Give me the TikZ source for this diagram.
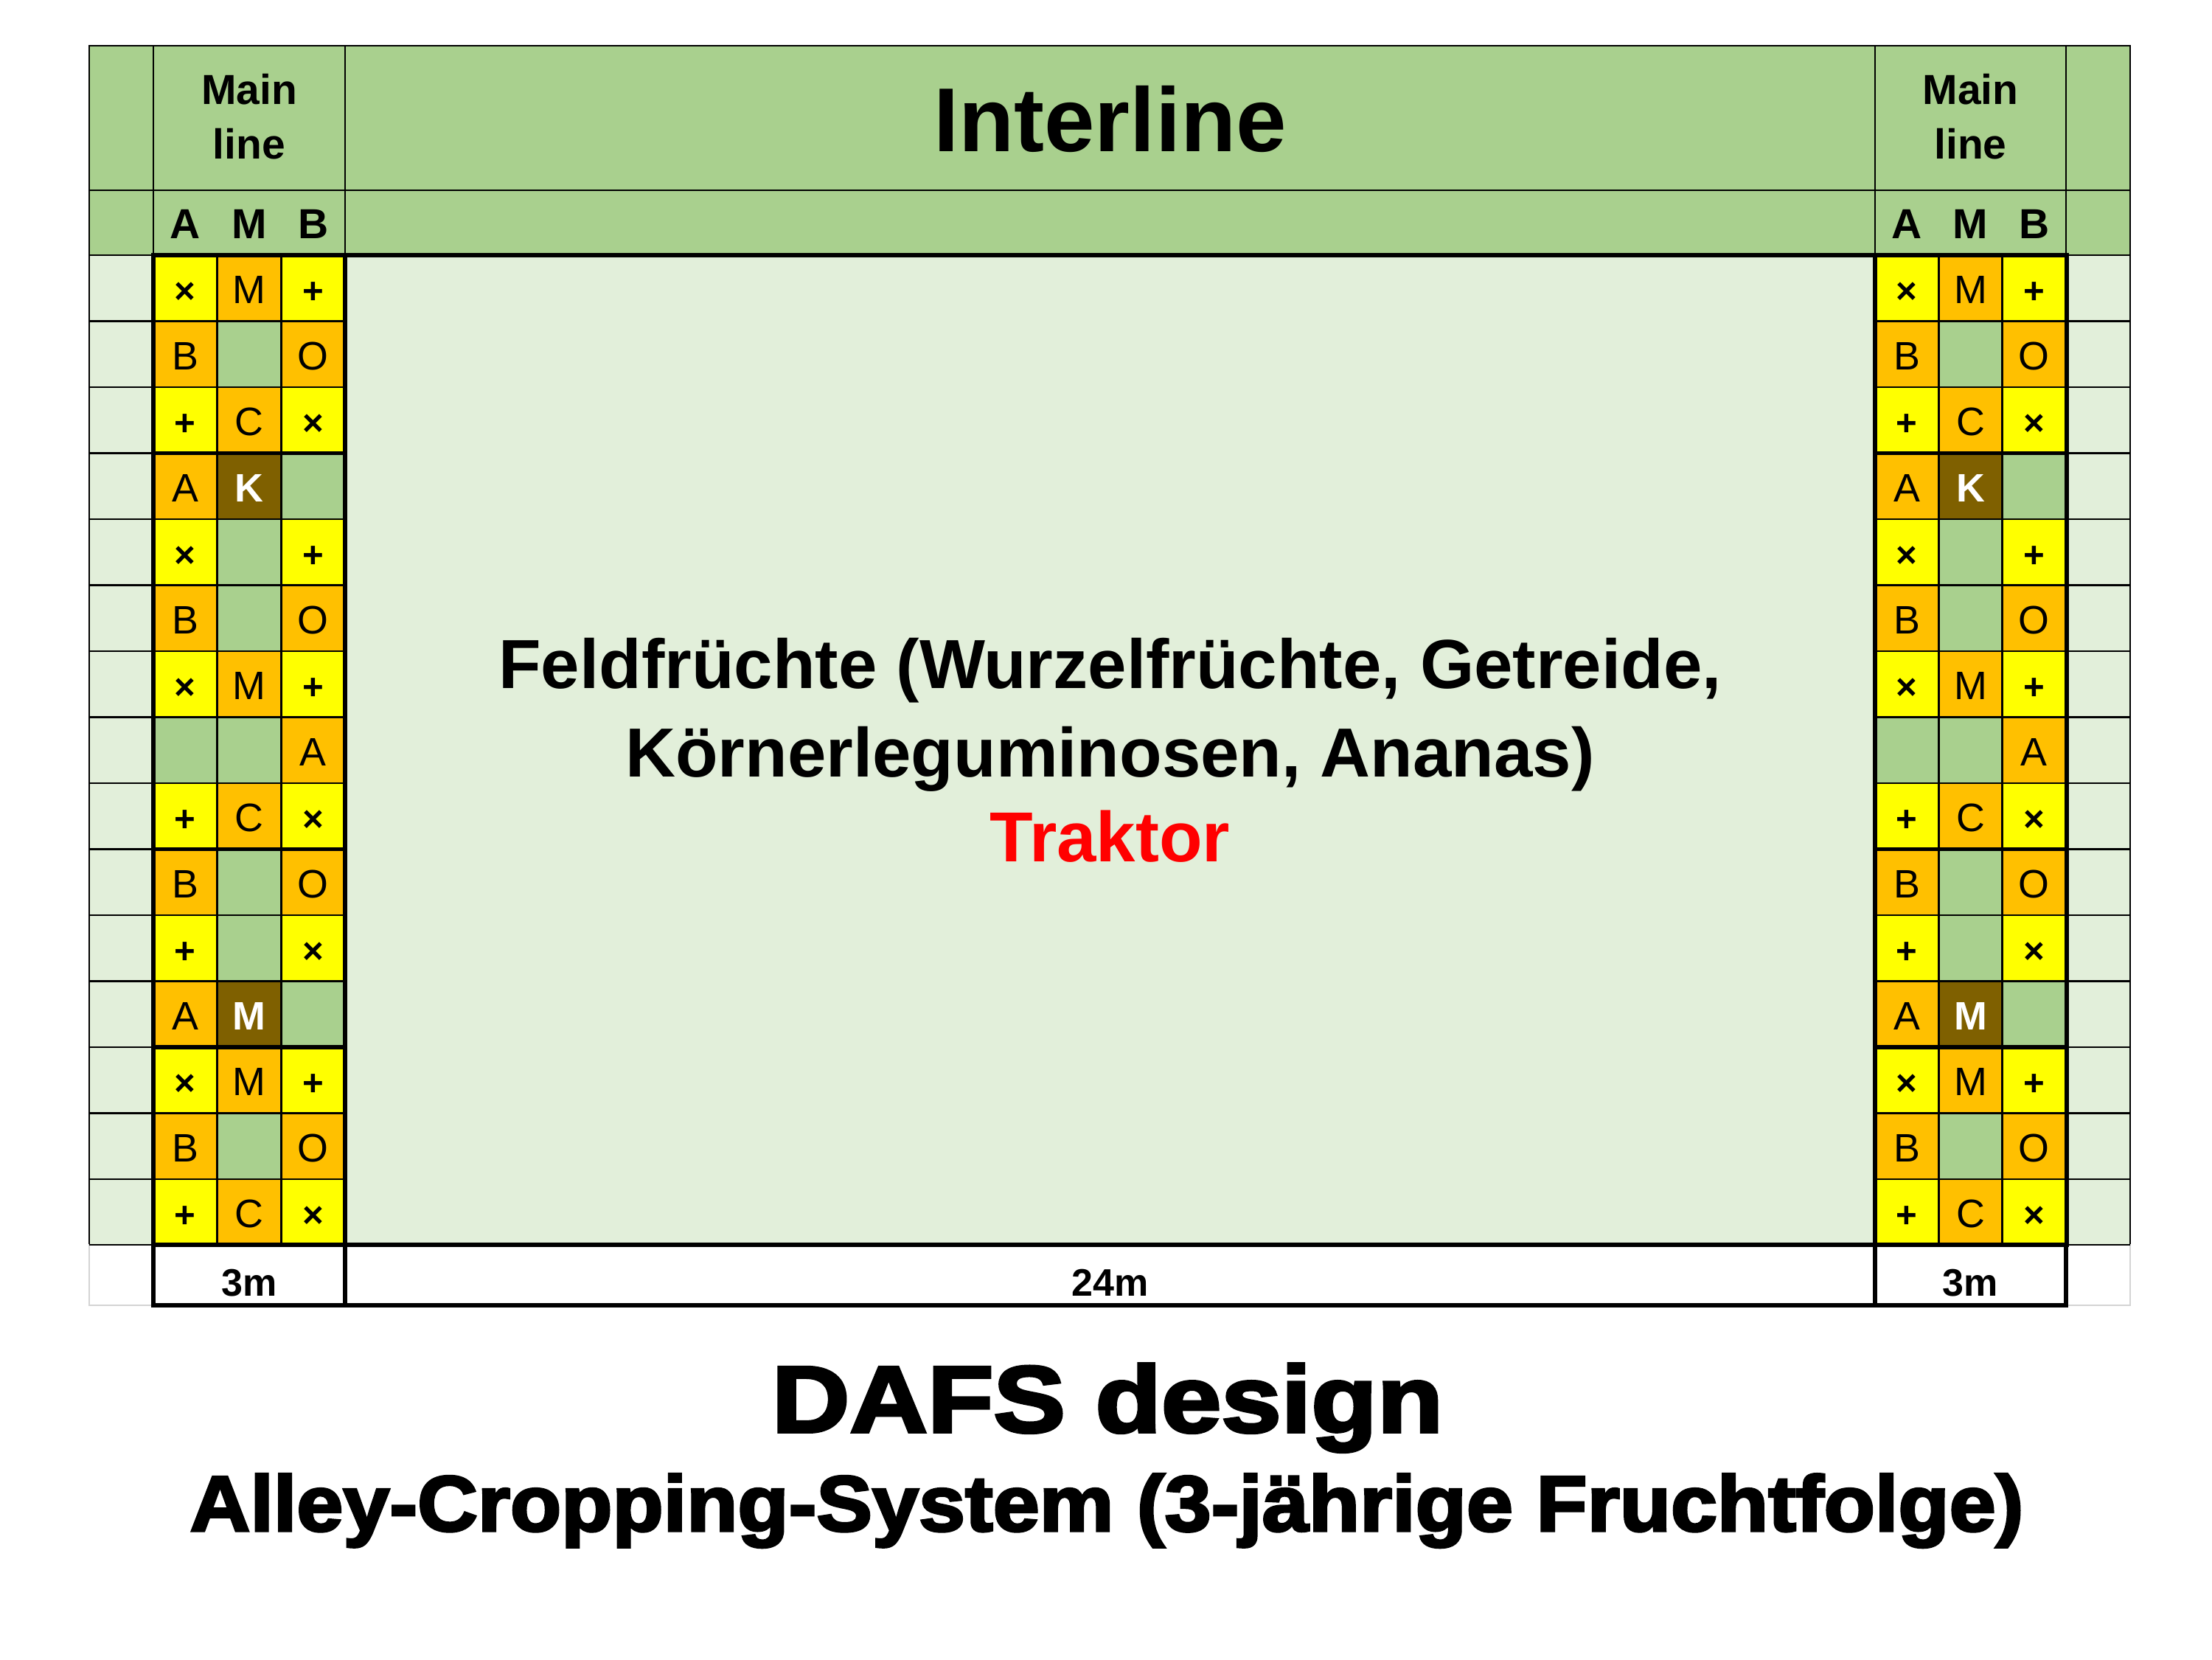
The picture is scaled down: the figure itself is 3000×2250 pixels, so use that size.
\documentclass[tikz,border=0pt]{standalone}
\usepackage{fontspec}
\setmainfont{Liberation Sans}
\newfontface\heavyfont{Liberation Sans Bold}[FakeBold=3]

\definecolor{hgreen}{HTML}{A9D08E}
\definecolor{lgreen}{HTML}{E2EFDA}
\definecolor{cY}{HTML}{FFFF00}
\definecolor{cO}{HTML}{FFC000}
\definecolor{cG}{HTML}{A9D08E}
\definecolor{cK}{HTML}{7F6000}
\definecolor{rulegray}{HTML}{D4D4D4}
\definecolor{tred}{HTML}{FF0000}

% cell glyphs
\newcommand\cx{{\bfseries\fontsize{14}{14}\selectfont ×}}
\newcommand\cp{{\bfseries\fontsize{14}{14}\selectfont +}}
\newcommand\ck[1]{{\color{white}\bfseries #1}}

\begin{document}
\begin{tikzpicture}[x=0.01cm,y=-0.01cm,
  thinrule/.style={draw=black,line width=0.7pt},
  thickrule/.style={draw=black,line width=1.6pt},
  grayrule/.style={draw=rulegray,line width=0.7pt},
  lbl/.style={inner sep=0pt,anchor=base},
  cell/.style={inner sep=0pt,anchor=center,text height=10.7pt,text depth=0pt,
    font=\fontsize{15.3}{15.3}\selectfont},
  hdr/.style={lbl,font=\bfseries\fontsize{16.2}{16.2}\selectfont},
  field/.style={lbl,font=\bfseries\fontsize{26.8}{26.8}\selectfont},
  width/.style={lbl,font=\bfseries\fontsize{14.8}{14.8}\selectfont}]

\useasboundingbox (0,0) rectangle (3000,2250);
\fill[white] (0,0) rectangle (3000,2250);

% header band, side strips and the alley
\fill[hgreen] (121,62) rectangle (2889,346);
\fill[lgreen] (121,346) rectangle (2889,1688);

% tree rows: coloured cells with their labels
\foreach \bx/\bw/\bs in {208/86.67/L,2543/86.33/R}{
  \foreach \r/\fa/\ta/\fb/\tb/\fc/\tc in {
     1/cY/\cx/cO/M/cY/\cp,
     2/cO/B/cG/{}/cO/O,
     3/cY/\cp/cO/C/cY/\cx,
     4/cO/A/cK/\ck{K}/cG/{},
     5/cY/\cx/cG/{}/cY/\cp,
     6/cO/B/cG/{}/cO/O,
     7/cY/\cx/cO/M/cY/\cp,
     8/cG/{}/cG/{}/cO/A,
     9/cY/\cp/cO/C/cY/\cx,
    10/cO/B/cG/{}/cO/O,
    11/cY/\cp/cG/{}/cY/\cx,
    12/cO/A/cK/\ck{M}/cG/{},
    13/cY/\cx/cO/M/cY/\cp,
    14/cO/B/cG/{}/cO/O,
    15/cY/\cp/cO/C/cY/\cx}{
    \pgfmathsetmacro\yt{346+89.5*(\r-1)}
    \fill[fill=\fa] (\bx,\yt) rectangle ++(\bw,89.5);
    \fill[fill=\fb] (\bx+\bw,\yt) rectangle ++(\bw,89.5);
    \fill[fill=\fc] (\bx+2*\bw,\yt) rectangle ++(\bw,89.5);
    \node[cell] (\bs-\r-a) at (\bx+0.5*\bw,\yt+47) {\ta};
    \node[cell] (\bs-\r-m) at (\bx+1.5*\bw,\yt+47) {\tb};
    \node[cell] (\bs-\r-b) at (\bx+2.5*\bw,\yt+47) {\tc};
  }
  % inner grid of the block
  \foreach \k in {1,...,14}
    \draw[thinrule] (\bx,346+89.5*\k) -- ++(3*\bw,0);
  \draw[thinrule] (\bx+\bw,346) -- ++(0,1342);
  \draw[thinrule] (\bx+2*\bw,346) -- ++(0,1342);
}

% header grid
\draw[thinrule] (121,62) rectangle (2889,346);
\draw[thinrule] (121,258) -- (2889,258);
\foreach \x in {208,468,2543,2802}
  \draw[thinrule] (\x,62) -- (\x,346);

% side strips
\foreach \x in {121,2802}{
  \foreach \k in {1,...,14}
    \draw[thinrule] (\x,346+89.5*\k) -- ++(87,0);
  \draw[thinrule] (\x,346) rectangle ++(87,1342);
}

% bottom row: outer cells in light grey
\draw[grayrule] (121,1688) rectangle (208,1770);
\draw[grayrule] (2802,1688) rectangle (2889,1770);
\draw[thinrule] (121,1688) -- (208,1688);
\draw[thinrule] (2802,1688) -- (2889,1688);
\fill[white] (208,1688) rectangle (2802,1770);

% heavy frames of the tree rows
\foreach \bx in {208,2543}{
  \draw[thickrule] (\bx,346) rectangle ++(260,1342);
  \foreach \k in {3,9,12}
    \draw[thickrule] (\bx,346+89.5*\k) -- ++(260,0);
}
\draw[thickrule] (468,346) -- (2543,346);
\draw[thickrule] (208,1688) rectangle (468,1770);
\draw[thickrule] (468,1688) rectangle (2543,1770);
\draw[thickrule] (2543,1688) rectangle (2802,1770);

% header texts
\node[hdr] (mainL1) at (338,141) {Main};
\node[hdr] (mainL2) at (338,215) {line};
\node[hdr] (mainR1) at (2672.5,141) {Main};
\node[hdr] (mainR2) at (2672.5,215) {line};
\node[hdr] (hLA) at (251.3,323) {A};
\node[hdr] (hLM) at (338,323) {M};
\node[hdr] (hLB) at (424.7,323) {B};
\node[hdr] (hRA) at (2586.2,323) {A};
\node[hdr] (hRM) at (2672.5,323) {M};
\node[hdr] (hRB) at (2758.8,323) {B};
\node[lbl,font=\bfseries\fontsize{35}{35}\selectfont] (inter) at (1505.5,205) {Interline};

% alley text
\node[field] (crop1) at (1505.5,933) {Feldfrüchte (Wurzelfrüchte, Getreide,};
\node[field] (crop2) at (1505.5,1053) {Körnerleguminosen, Ananas)};
\node[lbl,font=\bfseries\fontsize{27.3}{27.3}\selectfont,text=tred] (tractor) at (1505.5,1168) {Traktor};

% widths
\node[width] (wL) at (338,1757) {3m};
\node[width] (wC) at (1505.5,1757) {24m};
\node[width] (wR) at (2672.5,1757) {3m};

% titles
\node[lbl] (title) at (1502,1942) {\scalebox{1.14}[1]{\heavyfont\fontsize{36.5}{36.5}\selectfont DAFS design}};
\node[lbl] (subtitle) at (1501,2076) {\scalebox{1.06}[1]{\heavyfont\fontsize{30.4}{30.4}\selectfont Alley-Cropping-System (3-jährige Fruchtfolge)}};
\end{tikzpicture}
\end{document}
